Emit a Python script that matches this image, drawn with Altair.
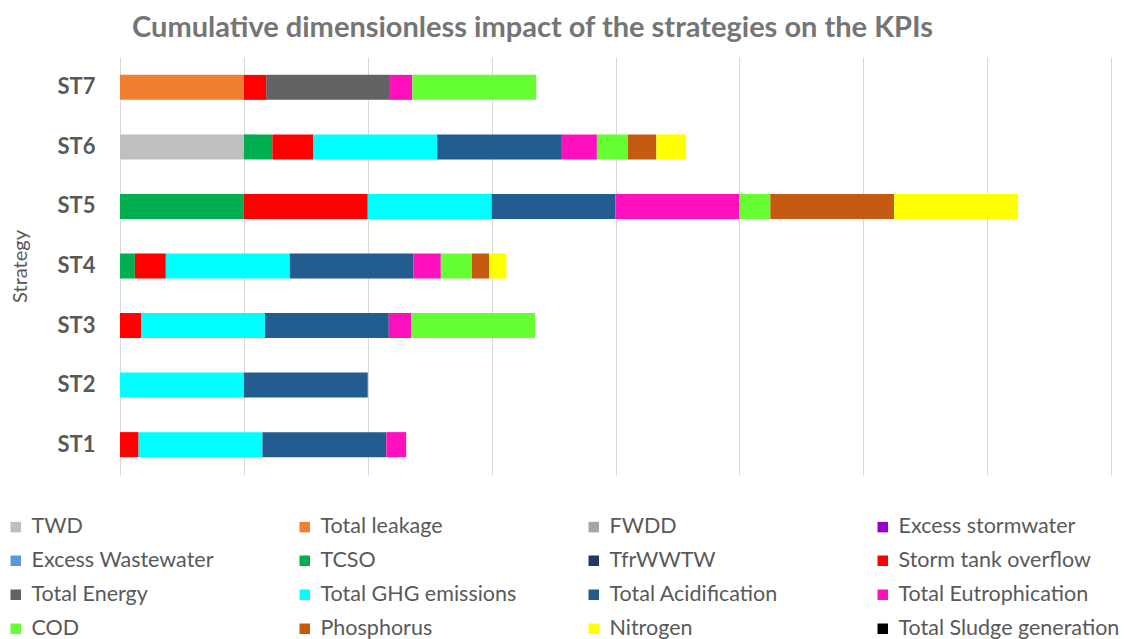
import altair as alt
import pandas as pd

strategies = ["ST1", "ST2", "ST3", "ST4", "ST5", "ST6", "ST7"]
kpis = ["TWD", "Total leakage", "FWDD", "Excess stormwater",
        "Excess Wastewater", "TCSO", "TfrWWTW", "Storm tank overflow",
        "Total Energy", "Total GHG emissions", "Total Acidification", "Total Eutrophication",
        "COD", "Phosphorus", "Nitrogen", "Total Sludge generation"]
colors = ["#BFBFBF", "#F07F30", "#A5A5A5", "#9900CC",
          "#5B9BD5", "#00B050", "#203864", "#FF0000",
          "#636363", "#00FFFF", "#235C8F", "#FF10BE",
          "#66FF33", "#C55A11", "#FFFF00", "#000000"]

# dimensionless impact per strategy, per KPI (only non-zero entries)
st1 = {"Storm tank overflow": 0.15, "Total GHG emissions": 1.0, "Total Acidification": 1.0,
       "Total Eutrophication": 0.16}
st2 = {"Total GHG emissions": 1.0, "Total Acidification": 1.0}
st3 = {"Storm tank overflow": 0.17, "Total GHG emissions": 1.0, "Total Acidification": 1.0,
       "Total Eutrophication": 0.18, "COD": 1.0}
st4 = {"TCSO": 0.12, "Storm tank overflow": 0.25, "Total GHG emissions": 1.0,
       "Total Acidification": 1.0, "Total Eutrophication": 0.22, "COD": 0.25,
       "Phosphorus": 0.14, "Nitrogen": 0.14}
st5 = {"TCSO": 1.0, "Storm tank overflow": 1.0, "Total GHG emissions": 1.0,
       "Total Acidification": 1.0, "Total Eutrophication": 1.0, "COD": 0.25,
       "Phosphorus": 1.0, "Nitrogen": 1.0}
st6 = {"TWD": 1.0, "TCSO": 0.23, "Storm tank overflow": 0.33, "Total GHG emissions": 1.0,
       "Total Acidification": 1.0, "Total Eutrophication": 0.29, "COD": 0.25,
       "Phosphorus": 0.23, "Nitrogen": 0.24}
st7 = {"Total leakage": 1.0, "Storm tank overflow": 0.18, "Total Energy": 1.0,
       "Total Eutrophication": 0.18, "COD": 1.0}

values = [st1, st2, st3, st4, st5, st6, st7]
rows = []
for s, d in zip(strategies, values):
    for k, v in d.items():
        rows.append({"Strategy": s, "KPI": k, "value": v, "ord": kpis.index(k)})
df = pd.DataFrame(rows)

FONT = "Lato"
TXT = "#595959"

bars = alt.Chart(df).mark_bar().encode(
    x=alt.X("value:Q", stack="zero",
            scale=alt.Scale(domain=[0, 8], nice=False),
            axis=alt.Axis(values=list(range(9)), labels=False, ticks=False, domain=False,
                          title=None, grid=True, gridColor="#D9D9D9", gridWidth=1)),
    y=alt.Y("Strategy:N", sort=strategies[::-1],
            scale=alt.Scale(paddingInner=0.58, paddingOuter=0.3),
            axis=alt.Axis(title="Strategy", labelFont=FONT, labelFontSize=22,
                          labelFontWeight="bold", labelColor=TXT, labelPadding=25,
                          ticks=False, domain=False, titleFont=FONT, titleFontSize=20,
                          titleFontWeight="normal", titleColor=TXT, titleX=-90)),
    color=alt.Color("KPI:N", scale=alt.Scale(domain=kpis, range=colors),
                    legend=alt.Legend(title=None, orient="none", legendX=-115, legendY=459,
                                      direction="horizontal", padding=0,
                                      columns=4, symbolType="square", symbolSize=110,
                                      symbolStrokeWidth=0, labelFont=FONT, labelFontSize=21.5,
                                      labelColor=TXT, labelOffset=5, columnPadding=41,
                                      rowPadding=11, gridAlign="all", labelLimit=400)),
    order=alt.Order("ord:Q", sort="ascending"),
).properties(
    width=991, height=418,
    title=alt.TitleParams("Cumulative dimensionless impact of the strategies on the KPIs",
                          font=FONT, fontSize=29, fontWeight="bold", color="#757575",
                          anchor="middle", dx=-83, offset=14),
    autosize=alt.AutoSizeParams(type="none"),
    padding={"left": 112, "top": 49, "right": 13, "bottom": 164},
).configure_view(stroke=None)

chart = bars
chart.save("out.html", embed_options={"renderer": "svg", "actions": False})
